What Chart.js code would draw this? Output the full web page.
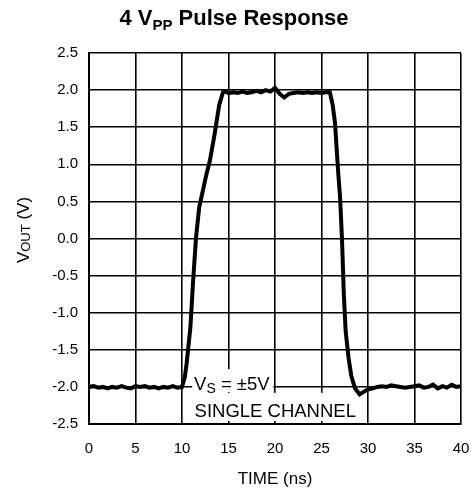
<!DOCTYPE html>
<html><head><meta charset="utf-8">
<script src="https://cdn.jsdelivr.net/npm/chart.js@4"></script>
<style>html,body{margin:0;padding:0;background:#fff}#wrap{width:471px;height:488px;position:relative}</style>
</head><body><div id="wrap"><canvas id="c" width="471" height="488"></canvas></div>
<script>
// Time axis (ns) and output voltage (V)
const timeNs = [0,0.5,1,1.5,2,2.5,3,3.5,4,4.5,5,5.5,6,6.5,7,7.5,8,8.5,9,9.5,10,
  10.3,10.5,10.9,11.2,11.5,11.85,12.2,12.6,13.0,13.5,14.0,14.4,14.7,
  15,15.5,16,16.5,17,17.5,18,18.5,19,19.5,20,20.5,21,21.5,22,22.5,23,23.5,24,24.5,25,25.5,25.9,
  26.2,26.45,26.8,27.0,27.2,27.4,27.6,27.9,28.2,28.6,29.1,29.5,29.9,
  30.5,31,31.5,32,32.5,33,33.5,34,34.5,35,35.5,36,36.5,37,37.5,38,38.5,39,39.5,40];
const voutV = [-2.00,-1.99,-2.01,-2.00,-2.02,-2.00,-2.01,-1.99,-2.01,-2.02,-1.99,-2.00,-1.99,-2.01,-2.00,-2.02,-2.00,-2.01,-1.99,-2.01,-2.00,
  -1.87,-1.68,-1.20,-0.56,0.00,0.42,0.62,0.85,1.05,1.40,1.80,1.97,1.98,
  1.96,1.97,1.96,1.98,1.96,1.97,1.99,1.97,2.00,1.98,2.03,1.95,1.90,1.95,1.96,1.97,1.96,1.97,1.96,1.97,1.96,1.97,1.97,
  1.80,1.56,0.88,0.55,0.00,-0.75,-1.25,-1.60,-1.85,-2.02,-2.10,-2.07,-2.04,
  -2.02,-2.00,-1.99,-2.00,-1.98,-1.99,-2.00,-2.01,-2.00,-1.99,-1.98,-2.01,-2.00,-1.97,-2.02,-1.99,-2.01,-1.97,-2.00,-1.99];
const xTickLabels = ['0','5','10','15','20','25','30','35','40'];
const yTickLabels = ['-2.5','-2.0','-1.5','-1.0','-0.5','0.0','0.5','1.0','1.5','2.0','2.5'];
const xTickValues = [0,5,10,15,20,25,30,35,40];
const yTickValues = [-2.5,-2.0,-1.5,-1.0,-0.5,0.0,0.5,1.0,1.5,2.0,2.5];

const FONT = '"Liberation Sans", Arial, Helvetica, sans-serif';

const points = timeNs.map((t, i) => ({x: t, y: voutV[i]}));

function drawSub(ctx, parts, x, y, align) {
  let total = 0;
  parts.forEach(p => { ctx.font = p.font; p.w = ctx.measureText(p.t).width; total += p.w; });
  let cx = align === 'center' ? x - total / 2 : x;
  parts.forEach(p => { ctx.font = p.font; ctx.fillText(p.t, cx, y + (p.dy || 0)); cx += p.w; });
  return total;
}

const textPlugin = {
  id: 'texts',
  beforeDatasetsDraw(chart) {
    const ctx = chart.ctx, xs = chart.scales.x, ys = chart.scales.y;
    ctx.save();
    ctx.fillStyle = '#fff';
    const xa = xs.getPixelForValue(11.1), xb = xs.getPixelForValue(19.8), xc = xs.getPixelForValue(29.8);
    ctx.fillRect(xa, ys.getPixelForValue(-1.76), xb - xa, ys.getPixelForValue(-2.07) - ys.getPixelForValue(-1.76));
    ctx.fillRect(xa - 2, ys.getPixelForValue(-2.08), xc - xa + 2, ys.getPixelForValue(-2.46) - ys.getPixelForValue(-2.08));
    ctx.restore();
  },
  afterDraw(chart) {
    const ctx = chart.ctx, xs = chart.scales.x, ys = chart.scales.y, ca = chart.chartArea;
    ctx.save();
    ctx.fillStyle = '#000';
    ctx.textBaseline = 'alphabetic';
    drawSub(ctx, [
      {t: '4 V', font: 'bold 22px ' + FONT},
      {t: 'PP', font: 'bold 15px ' + FONT, dy: 5},
      {t: ' Pulse Response', font: 'bold 22px ' + FONT}
    ], 234, 25, 'center');
    ctx.font = '17px ' + FONT;
    ctx.textAlign = 'center';
    ctx.fillText('TIME (ns)', (ca.left + ca.right) / 2, 484);
    ctx.textAlign = 'left';
    ctx.save();
    ctx.translate(29, 230);
    ctx.rotate(-Math.PI / 2);
    drawSub(ctx, [
      {t: 'V', font: '17px ' + FONT},
      {t: 'OUT', font: '13px ' + FONT, dy: 1},
      {t: ' (V)', font: '17px ' + FONT}
    ], 0, 0, 'center');
    ctx.restore();
    const ax = xs.getPixelForValue(11.3);
    drawSub(ctx, [
      {t: 'V', font: '18.5px ' + FONT},
      {t: 'S', font: '14px ' + FONT, dy: 3},
      {t: ' = \u00b15V', font: '18.5px ' + FONT}
    ], ax, ys.getPixelForValue(-2.04), 'left');
    ctx.font = '18.5px ' + FONT;
    ctx.fillText('SINGLE CHANNEL', xs.getPixelForValue(11.35), ys.getPixelForValue(-2.4));
    ctx.restore();
  }
};

new Chart(document.getElementById('c'), {
  type: 'scatter',
  data: { datasets: [{ data: points, showLine: true, borderColor: '#000', borderWidth: 4, pointRadius: 0, tension: 0, fill: false }] },
  options: {
    responsive: false, animation: false, devicePixelRatio: 1,
    layout: { padding: { left: 0, right: 10, top: 53, bottom: 0 } },
    plugins: { legend: { display: false }, tooltip: { enabled: false }, title: { display: false } },
    scales: {
      x: {
        type: 'linear', min: 0, max: 40,
        afterBuildTicks: s => { s.ticks = xTickValues.map(v => ({value: v})); },
        ticks: { callback: (v) => xTickLabels[xTickValues.indexOf(v)], color: '#000', font: { family: FONT, size: 15 }, padding: 16, maxRotation: 0, autoSkip: false },
        grid: { color: '#000', lineWidth: 1.6, drawTicks: false },
        border: { color: '#000', width: 2 },
        afterFit: s => { s.height = 64; s.paddingLeft = 0; s.paddingRight = 0; }
      },
      y: {
        type: 'linear', min: -2.5, max: 2.5,
        afterBuildTicks: s => { s.ticks = yTickValues.map(v => ({value: v})); },
        ticks: { callback: (v) => yTickLabels[yTickValues.indexOf(v)], color: '#000', font: { family: FONT, size: 15 }, padding: 11, autoSkip: false },
        grid: { color: '#000', lineWidth: 1.6, drawTicks: false },
        border: { color: '#000', width: 2 },
        afterFit: s => { s.width = 89; s.paddingTop = 0; s.paddingBottom = 0; }
      }
    }
  },
  plugins: [textPlugin]
});
</script></body></html>
